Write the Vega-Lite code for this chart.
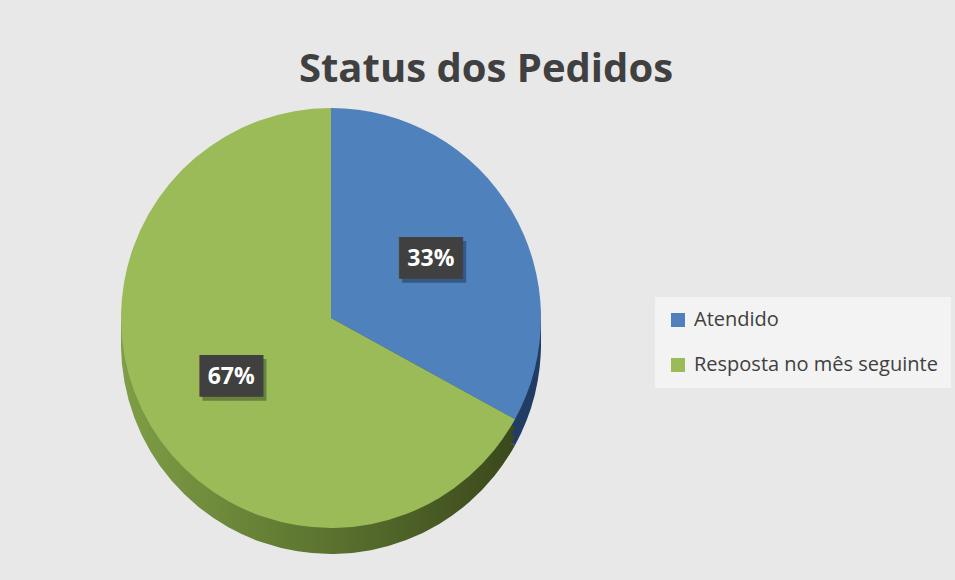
{
  "$schema": "https://vega.github.io/schema/vega-lite/v6.json",
  "autosize": {"type": "none"},
  "padding": {"left": 121, "top": 108, "right": 414, "bottom": 52},
  "width": 420,
  "height": 420,
  "background": "#e8e8e8",
  "config": {"view": {"stroke": null}},
  "title": {
    "text": "Status dos Pedidos",
    "font": "Open Sans",
    "fontSize": 40,
    "fontWeight": "bold",
    "color": "#404040",
    "anchor": "middle",
    "dx": 155,
    "offset": 18
  },
  "data": {
    "values": [
      {"status": "Atendido", "value": 33, "label": "33%", "order": 1},
      {"status": "Resposta no mês seguinte", "value": 67, "label": "67%", "order": 2}
    ]
  },
  "layer": [
    {
      "mark": {"type": "arc", "outerRadius": 210, "yOffset": 26},
      "encoding": {
        "theta": {"field": "value", "type": "quantitative", "stack": true},
        "order": {"field": "order"},
        "detail": {"field": "status"},
        "fill": {"condition": {"test": "datum.status === 'Atendido'", "value": "#213d63"}, "value": {"gradient": "linear", "x1": 0, "y1": 0, "x2": 1, "y2": 0, "stops": [{"offset": 0, "color": "#7f9e46"}, {"offset": 0.5, "color": "#5d7530"}, {"offset": 1, "color": "#3a481c"}]}}
      }
    },
    {
      "mark": {"type": "arc", "outerRadius": 210, "yOffset": 17},
      "encoding": {
        "theta": {"field": "value", "type": "quantitative", "stack": true},
        "order": {"field": "order"},
        "detail": {"field": "status"},
        "fill": {"condition": {"test": "datum.status === 'Atendido'", "value": "#213d63"}, "value": {"gradient": "linear", "x1": 0, "y1": 0, "x2": 1, "y2": 0, "stops": [{"offset": 0, "color": "#7f9e46"}, {"offset": 0.5, "color": "#5d7530"}, {"offset": 1, "color": "#3a481c"}]}}
      }
    },
    {
      "mark": {"type": "arc", "outerRadius": 210, "yOffset": 8},
      "encoding": {
        "theta": {"field": "value", "type": "quantitative", "stack": true},
        "order": {"field": "order"},
        "detail": {"field": "status"},
        "fill": {"condition": {"test": "datum.status === 'Atendido'", "value": "#213d63"}, "value": {"gradient": "linear", "x1": 0, "y1": 0, "x2": 1, "y2": 0, "stops": [{"offset": 0, "color": "#7f9e46"}, {"offset": 0.5, "color": "#5d7530"}, {"offset": 1, "color": "#3a481c"}]}}
      }
    },
    {
      "mark": {"type": "arc", "outerRadius": 210},
      "encoding": {
        "theta": {"field": "value", "type": "quantitative", "stack": true},
        "order": {"field": "order"},
        "color": {
          "field": "status",
          "type": "nominal",
          "sort": ["Atendido", "Resposta no mês seguinte"],
          "scale": {"domain": ["Atendido", "Resposta no mês seguinte"], "range": ["#4f81bd", "#9bbb59"]},
          "legend": {
            "title": null,
            "orient": "none",
            "legendX": 534,
            "legendY": 189,
            "padding": 13,
            "fillColor": "#f3f3f3",
            "symbolType": "square",
            "symbolSize": 196,
            "symbolStrokeWidth": 0,
            "labelFont": "Open Sans",
            "labelFontSize": 20,
            "labelColor": "#404040",
            "labelOffset": 6,
            "rowPadding": 25,
            "labelLimit": 400
          }
        }
      }
    },
    {
      "mark": {"type": "text", "radius": 116, "font": "DejaVu Sans Mono", "fontSize": 35, "dx": 3, "dy": 4, "color": "#000000", "opacity": 0.3, "baseline": "middle"},
      "encoding": {
        "theta": {"field": "value", "type": "quantitative", "stack": true},
        "order": {"field": "order"},
        "detail": {"field": "status"},
        "text": {"value": "███"}
      }
    },
    {
      "mark": {"type": "text", "radius": 116, "font": "DejaVu Sans Mono", "fontSize": 35, "color": "#404040", "baseline": "middle"},
      "encoding": {
        "theta": {"field": "value", "type": "quantitative", "stack": true},
        "order": {"field": "order"},
        "detail": {"field": "status"},
        "text": {"value": "███"}
      }
    },
    {
      "mark": {"type": "text", "radius": 116, "font": "Open Sans", "fontSize": 23, "fontWeight": "bold", "color": "#ffffff", "baseline": "middle"},
      "encoding": {
        "theta": {"field": "value", "type": "quantitative", "stack": true},
        "order": {"field": "order"},
        "detail": {"field": "status"},
        "text": {"field": "label"}
      }
    }
  ]
}
